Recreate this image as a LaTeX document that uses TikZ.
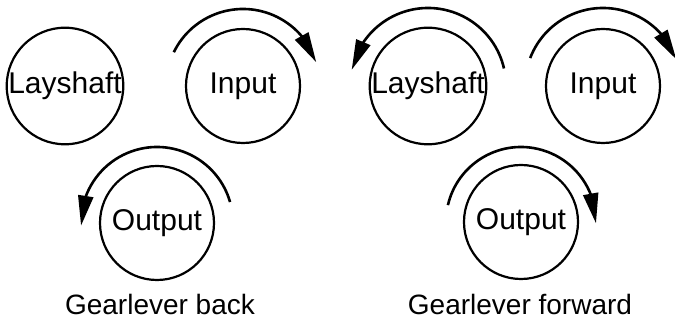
\documentclass[tikz,border=0pt]{standalone}
\usepackage{fontspec}
\setmainfont{Liberation Sans}
\usetikzlibrary{arrows.meta, bending}

\tikzset{
 gear/.style={circle, draw, line width=2.2pt, minimum size=114pt, inner sep=0pt, font=\fontsize{30}{32}\selectfont},
 turn/.style={line width=2.6pt, -{Triangle[length=30pt, width=15pt, flex]}},
 caption/.style={font=\fontsize{28}{30}\selectfont}
}

\begin{document}
\begin{tikzpicture}[x=1pt, y=1pt]
 \useasboundingbox (0,0) rectangle (675,323);

 % gearlever back
 \node[gear] (lay1) at (65,237) {Layshaft};
 \node[gear] (in1) at (243,237) {Input};
 \node[gear] (out1) at (157,100) {Output};
 \node[caption] (cap1) at (160,19) {Gearlever back};

 % gearlever forward
 \node[gear] (lay2) at (428,237) {Layshaft};
 \node[gear] (in2) at (603,237) {Input};
 \node[gear] (out2) at (521,101) {Output};
 \node[caption] (cap2) at (520,19) {Gearlever forward};

 % direction of turning
 \foreach \g/\a/\b/\r in {in1/154/18/77, out1/16/182/76, lay2/13/168/78, in2/159/20/78, out2/167/-1/75} {
  \draw[turn] ([shift={(\a:\r)}]\g.center) arc[start angle=\a, end angle=\b, radius=\r];
 }
\end{tikzpicture}
\end{document}
